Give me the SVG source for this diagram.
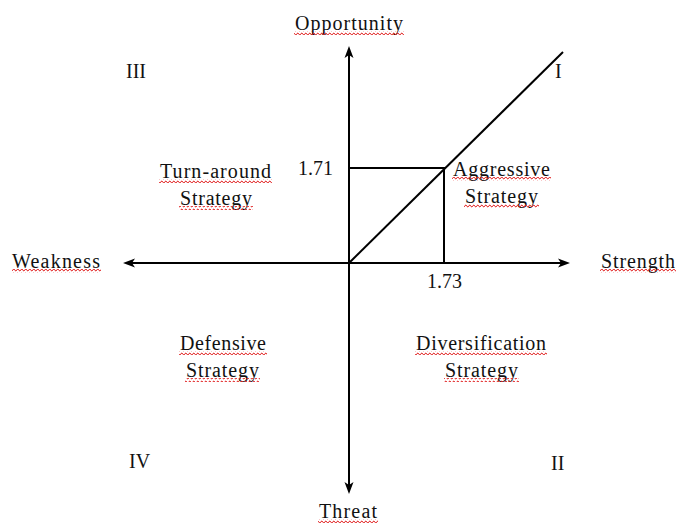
<svg xmlns="http://www.w3.org/2000/svg" width="677" height="524" viewBox="0 0 677 524">
  <style>
    text { font-family: 'Times New Roman', 'Liberation Serif', Tinos, serif; font-size: 20px; fill: #111; }
    .ax { stroke: #000; stroke-width: 2; fill: none; }
    .sq { fill: url(#squig); }
  </style>
  <defs>
    <marker id="ah" markerUnits="userSpaceOnUse" markerWidth="12" markerHeight="10" viewBox="0 0 12 10" refX="4" refY="5" orient="auto-start-reverse">
      <path d="M0,0.5 L12,5 L0,9.5 L3,5 Z" fill="#000"/>
    </marker>
    <pattern id="squig" patternUnits="userSpaceOnUse" width="4" height="4" x="0" y="0">
      <path d="M0,3 L1,1.5 L2,1 L3,2.5 L4,3" stroke="#e02020" stroke-width="1" fill="none"/>
    </pattern>
  </defs>

  <g id="connectors">
    <line id="axis-vertical" class="ax" x1="349" y1="486" x2="349" y2="54" marker-start="url(#ah)" marker-end="url(#ah)"/>
    <line id="axis-horizontal" class="ax" x1="131" y1="263" x2="562" y2="263" marker-start="url(#ah)" marker-end="url(#ah)"/>
    <line id="diagonal" class="ax" x1="349" y1="263" x2="563" y2="52"/>
    <polyline id="box" class="ax" points="349,168 444,168 444,263"/>
  </g>

  <g id="opportunity">
    <text x="295" y="30" textLength="108" lengthAdjust="spacing">Opportunity</text>
    <rect class="sq" x="294" y="31" width="110" height="4"/>
  </g>
  <g id="threat">
    <text x="319" y="518" textLength="58" lengthAdjust="spacing">Threat</text>
    <rect class="sq" x="318" y="519" width="60" height="4"/>
  </g>
  <g id="weakness">
    <text x="12" y="268" textLength="88" lengthAdjust="spacing">Weakness</text>
    <rect class="sq" x="12" y="269" width="89" height="4"/>
  </g>
  <g id="strength">
    <text x="601" y="268" textLength="74" lengthAdjust="spacing">Strength</text>
    <rect class="sq" x="600" y="269" width="76" height="4"/>
  </g>

  <g id="quadrant-III">
    <text x="126" y="78">III</text>
  </g>
  <g id="quadrant-I">
    <text x="555" y="78">I</text>
  </g>
  <g id="quadrant-IV">
    <text x="129" y="468">IV</text>
  </g>
  <g id="quadrant-II">
    <text x="551" y="470">II</text>
  </g>

  <g id="value-171">
    <text x="298" y="175">1.71</text>
  </g>
  <g id="value-173">
    <text x="427" y="288">1.73</text>
  </g>

  <g id="turn-around">
    <text x="160" y="178" textLength="111" lengthAdjust="spacing">Turn-around</text>
    <rect class="sq" x="159" y="179" width="113" height="4"/>
    <text x="180" y="205" textLength="72" lengthAdjust="spacing">Strategy</text>
    <rect class="sq" x="179" y="206" width="74" height="4"/>
  </g>
  <g id="aggressive">
    <text x="453" y="176" textLength="97" lengthAdjust="spacing">Aggressive</text>
    <rect class="sq" x="452" y="177" width="99" height="4"/>
    <text x="465" y="203" textLength="73" lengthAdjust="spacing">Strategy</text>
    <rect class="sq" x="464" y="204" width="75" height="4"/>
  </g>
  <g id="defensive">
    <text x="180" y="350" textLength="86" lengthAdjust="spacing">Defensive</text>
    <rect class="sq" x="179" y="351" width="88" height="4"/>
    <text x="186" y="377" textLength="73" lengthAdjust="spacing">Strategy</text>
    <rect class="sq" x="185" y="378" width="75" height="4"/>
  </g>
  <g id="diversification">
    <text x="416" y="350" textLength="130" lengthAdjust="spacing">Diversification</text>
    <rect class="sq" x="415" y="351" width="132" height="4"/>
    <text x="445" y="377" textLength="73" lengthAdjust="spacing">Strategy</text>
    <rect class="sq" x="444" y="378" width="75" height="4"/>
  </g>
</svg>
